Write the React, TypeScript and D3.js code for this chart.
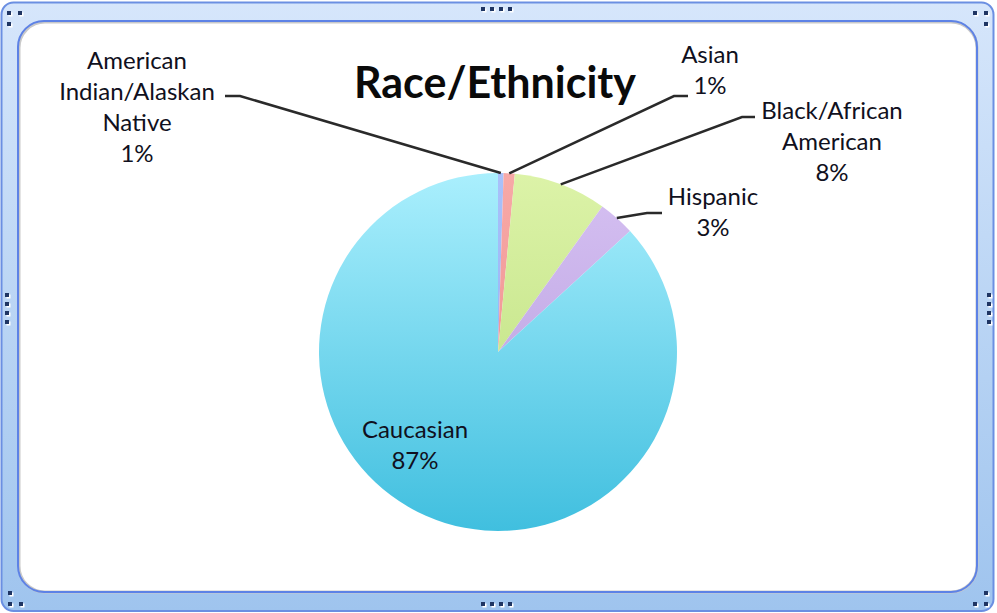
import * as d3 from "d3"

// Chart data
const categories = ["American Indian/Alaskan Native", "Asian", "Black/African American", "Hispanic", "Caucasian"]
const shares = [0.5, 1.0, 8.4, 3.3, 86.8]
const percentLabels = ["1%", "1%", "8%", "3%", "87%"]
const labelLines = [
  ["American", "Indian/Alaskan", "Native"],
  ["Asian"],
  ["Black/African", "American"],
  ["Hispanic"],
  ["Caucasian"],
]
const title = "Race/Ethnicity"

// slice gradient stops (top, bottom)
const sliceColors: [string, string][] = [
  ["#a9c1fa", "#8eaaf0"],
  ["#f7a9a7", "#ec8886"],
  ["#dcf3a8", "#b8dc78"],
  ["#d6c1f2", "#b398dc"],
  ["#aaeffd", "#40bfdf"],
]

// label layout: text x, first baseline, leader line anchor + elbow (null = label inside)
const labelLayout = [
  { x: 137, y: 69, anchor: [225, 96], elbow: [240, 96] },
  { x: 710, y: 63, anchor: [688, 96], elbow: [674, 96] },
  { x: 832, y: 119, anchor: [755, 117], elbow: [742, 117] },
  { x: 713, y: 205, anchor: [662, 213], elbow: [647, 213] },
  { x: 415, y: 438, anchor: null, elbow: null },
]

const W = 997
const H = 613
const cx = 498
const cy = 352
const radius = 179
const lineH = 31
const font = "Lato, 'Open Sans', sans-serif"

function Handles() {
  const dots: [number, number][] = [
    [481, 7], [490, 7], [499, 7], [508, 7],
    [481, 602], [490, 602], [499, 602], [508, 602],
    [5, 293], [5, 302], [5, 311], [5, 320],
    [987, 293], [987, 302], [987, 311], [987, 320],
    [7, 11], [18, 11], [7, 22],
    [973, 11], [984, 11], [984, 22],
    [8, 591], [8, 602], [19, 602],
    [984, 591], [984, 602], [973, 602],
  ]
  return (
    <g>
      {dots.map(([x, y], i) => (
        <g key={i}>
          <rect x={x + 1.5} y={y + 1.5} width={4} height={4} fill="#ffffff" />
          <rect x={x} y={y} width={4} height={4} fill="#1f3563" />
        </g>
      ))}
    </g>
  )
}

export default function App() {
  const pie = d3
    .pie<number>()
    .sort(null)
    .value((d) => d)
  const arcs = pie(shares)
  const arc = d3.arc<d3.PieArcDatum<number>>().innerRadius(0).outerRadius(radius)

  return (
    <svg
      width={W}
      height={H}
      style={{ position: "absolute", left: 0, top: 0, display: "block" }}
      fontFamily={font}
    >
      <defs>
        <linearGradient id="frameGrad" x1="0" y1="0" x2="0" y2="1">
          <stop offset="0" stopColor="#d6e6fb" />
          <stop offset="1" stopColor="#9fc4ee" />
        </linearGradient>
        {sliceColors.map((c, i) => (
          <linearGradient
            key={i}
            id={`slice${i}`}
            gradientUnits="userSpaceOnUse"
            x1={0}
            y1={-radius}
            x2={0}
            y2={radius}
          >
            <stop offset="0" stopColor={c[0]} />
            <stop offset="1" stopColor={c[1]} />
          </linearGradient>
        ))}
      </defs>

      {/* selection frame */}
      <rect x={1.5} y={2.5} width={W - 5} height={H - 4.5} rx={12} fill="url(#frameGrad)" stroke="#6b8fe2" strokeWidth={2} />
      <rect x={19} y={22} width={958} height={570} rx={26} fill="#ffffff" stroke="#c9c9c9" strokeWidth={3} />
      <rect x={18} y={21} width={959} height={571} rx={26} fill="none" stroke="#5d82e6" strokeWidth={2} />
      <Handles />

      <text x={495} y={98} textAnchor="middle" fontSize={43} fontWeight="bold" fill="#0a0a0a">
        {title}
      </text>

      <g transform={`translate(${cx},${cy})`}>
        {arcs.map((a, i) => (
          <path key={categories[i]} d={arc(a) ?? ""} fill={`url(#slice${i})`} />
        ))}
      </g>

      {/* leader lines */}
      {arcs.map((a, i) => {
        const l = labelLayout[i]
        if (!l.anchor || !l.elbow) return null
        const mid = (a.startAngle + a.endAngle) / 2
        const px = cx + Math.sin(mid) * radius
        const py = cy - Math.cos(mid) * radius
        const pts: [number, number][] = [l.anchor as [number, number], l.elbow as [number, number], [px, py]]
        return <path key={i} d={d3.line()(pts) ?? ""} fill="none" stroke="#2a2a2a" strokeWidth={2.5} />
      })}

      {/* labels */}
      {labelLayout.map((l, i) => {
        const lines = [...labelLines[i], percentLabels[i]]
        return (
          <text key={i} x={l.x} y={l.y} textAnchor="middle" fontSize={24} fill="#101020">
            {lines.map((s, j) => (
              <tspan key={j} x={l.x} dy={j === 0 ? 0 : lineH}>
                {s}
              </tspan>
            ))}
          </text>
        )
      })}
    </svg>
  )
}
